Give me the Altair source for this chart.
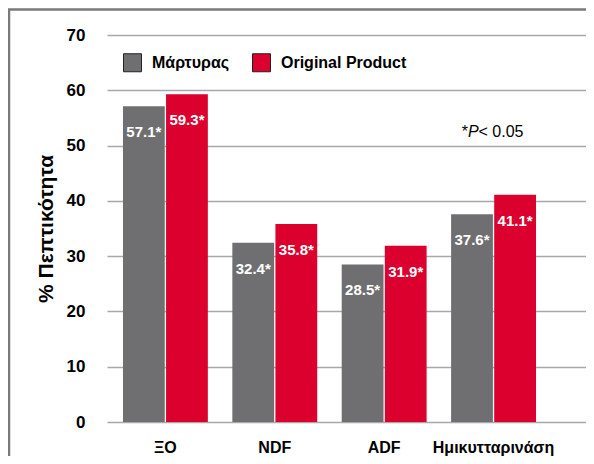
import altair as alt
import pandas as pd

categories = ["ΞΟ", "NDF", "ADF", "Ημικυτταρινάση"]
series = ["Μάρτυρας", "Original Product"]
control_values = [57.1, 32.4, 28.5, 37.6]
product_values = [59.3, 35.8, 31.9, 41.1]
y_ticks = [0, 10, 20, 30, 40, 50, 60, 70]
colors = ["#6f6f71", "#dc002f"]

FONT = "Liberation Sans"

rows = []
for c, v1, v2 in zip(categories, control_values, product_values):
    rows.append({"cat": c, "series": series[0], "value": v1, "label": f"{v1}*"})
    rows.append({"cat": c, "series": series[1], "value": v2, "label": f"{v2}*"})
df = pd.DataFrame(rows)

x_enc = alt.X("cat:N", sort=categories,
              scale=alt.Scale(paddingInner=0.224, paddingOuter=0.3016, align=0.242),
              axis=alt.Axis(title=None, labelFont=FONT, labelFontSize=16, labelFontWeight="bold",
                            labelColor="black", labelPadding=17, ticks=False, domain=False,
                            labelAngle=0, grid=False))
xoff = alt.XOffset("series:N", sort=series, scale=alt.Scale(paddingInner=0.03))
y_enc = alt.Y("value:Q", scale=alt.Scale(domain=[0, 70], nice=False),
              axis=alt.Axis(title="% Πεπτικότητα", values=y_ticks, titleFont=FONT, titleFontSize=21,
                            titleFontWeight="bold", titleColor="black", titlePadding=10,
                            labelFont=FONT, labelFontSize=17, labelFontWeight="bold", labelColor="black",
                            labelPadding=22, ticks=False, domain=False, grid=True,
                            gridColor="#a8a8a8", gridWidth=1.6))

bars = alt.Chart(df).mark_bar().encode(
    x=x_enc, xOffset=xoff, y=y_enc,
    color=alt.Color("series:N", sort=series,
                    scale=alt.Scale(domain=series, range=colors),
                    legend=alt.Legend(title=None, orient="none", legendX=16, legendY=18,
                                      direction="horizontal", symbolType="square", symbolSize=324,
                                      symbolStrokeColor="#222", symbolStrokeWidth=1,
                                      labelFont=FONT, labelFontSize=16, labelFontWeight="bold",
                                      labelColor="black", labelOffset=10, columnPadding=20,
                                      padding=0, symbolOpacity=1)),
)

labels = alt.Chart(df).mark_text(baseline="top", dy=19, color="white", font=FONT,
                                 fontSize=15, fontWeight="bold").encode(
    x=x_enc, xOffset=xoff, y=y_enc, text="label:N")

one = pd.DataFrame({"a": [0]})
note_star = alt.Chart(one).mark_text(align="left", baseline="middle", font=FONT, fontSize=16,
                                     color="black").encode(
    x=alt.value(354.7), y=alt.value(97), text=alt.value("*"))
note_p = alt.Chart(one).mark_text(align="left", baseline="middle", font=FONT, fontSize=16,
                                  fontStyle="italic", color="black").encode(
    x=alt.value(361), y=alt.value(97), text=alt.value("P"))
note_rest = alt.Chart(one).mark_text(align="left", baseline="middle", font=FONT, fontSize=16,
                                     color="black").encode(
    x=alt.value(371.5), y=alt.value(97), text=alt.value("< 0.05"))

border = alt.Chart(one).mark_rect(fillOpacity=0, stroke="#7a7a7a", strokeWidth=2.5).encode(
    x=alt.value(-98), x2=alt.value(900), y=alt.value(-25.5), y2=alt.value(900))

chart = alt.layer(bars, labels, note_star, note_p, note_rest, border).properties(
    width=479, height=387,
    background="white",
    autosize=alt.AutoSizeParams(type="none"),
    padding={"left": 99, "top": 27, "right": 0, "bottom": 34},
).configure_view(stroke=None)

chart.save("out.html", embed_options={"renderer": "svg", "actions": False})
